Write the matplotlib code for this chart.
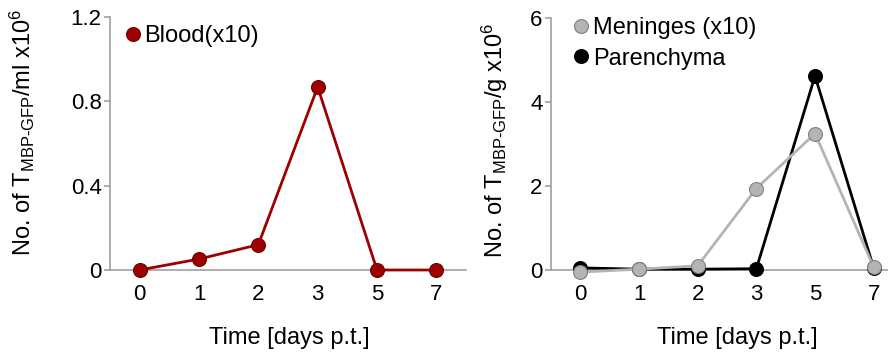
import numpy as np
import matplotlib
matplotlib.use("Agg")
import matplotlib.pyplot as plt
from matplotlib.lines import Line2D

plt.rcParams['font.family'] = ['Liberation Sans', 'DejaVu Sans']
plt.rcParams['mathtext.fontset'] = 'custom'
plt.rcParams['mathtext.rm'] = 'Liberation Sans'
plt.rcParams['mathtext.it'] = 'Liberation Sans:italic'

# data
days = ['0', '1', '2', '3', '5', '7']
blood = [0.0, 0.052, 0.12, 0.868, 0.0, 0.0]
meninges = [-0.05, 0.02, 0.10, 1.94, 3.25, 0.07]
parenchyma = [0.05, 0.02, 0.02, 0.03, 4.62, 0.05]

left_yticks = [0, 0.4, 0.8, 1.2]
left_yticklabels = ['0', '0.4', '0.8', '1.2']
right_yticks = [0, 2, 4, 6]

axis_grey = '#a0a0a0'
red = '#9e0000'
grey = '#b4b4b4'


def style_axis(ax, ylim, yticks, yticklabels):
    x = np.arange(len(days))
    ax.set_xlim(-0.5, 5.5)
    ax.set_ylim(*ylim)
    ax.set_xticks(x)
    ax.set_xticklabels(days)
    ax.set_yticks(yticks)
    ax.set_yticklabels(yticklabels)
    for s in ['top', 'right']:
        ax.spines[s].set_visible(False)
    for s in ['left', 'bottom']:
        ax.spines[s].set_color(axis_grey)
        ax.spines[s].set_linewidth(1.2)
    ax.tick_params(axis='x', length=0, pad=10, labelsize=16)
    ax.tick_params(axis='y', length=4.5, width=1.2, color=axis_grey, pad=1.5, labelsize=16)
    ax.set_xlabel('Time [days p.t.]', fontsize=17)


def dot(fc, ec):
    return Line2D([], [], ls='none', marker='o', ms=10, mfc=fc, mec=ec, mew=0.8)


fig = plt.figure(figsize=(8.88, 3.54), dpi=100)
ax1 = fig.add_axes([110 / 888, 84 / 354, 356 / 888, 253 / 354])
ax2 = fig.add_axes([551 / 888, 84 / 354, 352 / 888, 252 / 354])

x = np.arange(len(days))
ax1.plot(x, blood, color=red, lw=2.0, marker='o', ms=10, mfc=red, mec='#6a0000',
         mew=0.8, clip_on=False, zorder=3)
style_axis(ax1, (0, 1.2), left_yticks, left_yticklabels)
ax1.set_ylabel('No. of T$_{\\mathrm{MBP\u2010GFP}}$/ml x10$^{6}$', fontsize=17)
ax1.yaxis.set_label_coords(-0.205, 0.545)
ax1.xaxis.set_label_coords(0.505, -0.225)
ax1.legend([dot(red, '#6a0000')], ['Blood(x10)'], loc='upper left', frameon=False,
           fontsize=17, handletextpad=-0.15, borderaxespad=0.0, handlelength=1.3,
           bbox_to_anchor=(-0.006, 1.005))

ax2.plot(x, parenchyma, color='black', lw=2.0, marker='o', ms=10, mfc='black',
         mec='black', mew=0.8, clip_on=False, zorder=3)
ax2.plot(x, meninges, color=grey, lw=2.0, marker='o', ms=10, mfc=grey,
         mec='#808080', mew=0.8, clip_on=False, zorder=4)
style_axis(ax2, (0, 6), right_yticks, [str(t) for t in right_yticks])
ax2.set_ylabel('No. of T$_{\\mathrm{MBP\u2010GFP}}$/g x10$^{6}$', fontsize=17)
ax2.yaxis.set_label_coords(-0.116, 0.516)
ax2.xaxis.set_label_coords(0.528, -0.225)
ax2.legend([dot(grey, '#808080'), dot('black', 'black')],
           ['Meninges (x10)', 'Parenchyma'], loc='upper left', frameon=False,
           fontsize=17, handletextpad=-0.15, borderaxespad=0.0, handlelength=1.3,
           bbox_to_anchor=(0.015, 1.04), labelspacing=0.35)

fig.savefig('out.png', dpi=100)
